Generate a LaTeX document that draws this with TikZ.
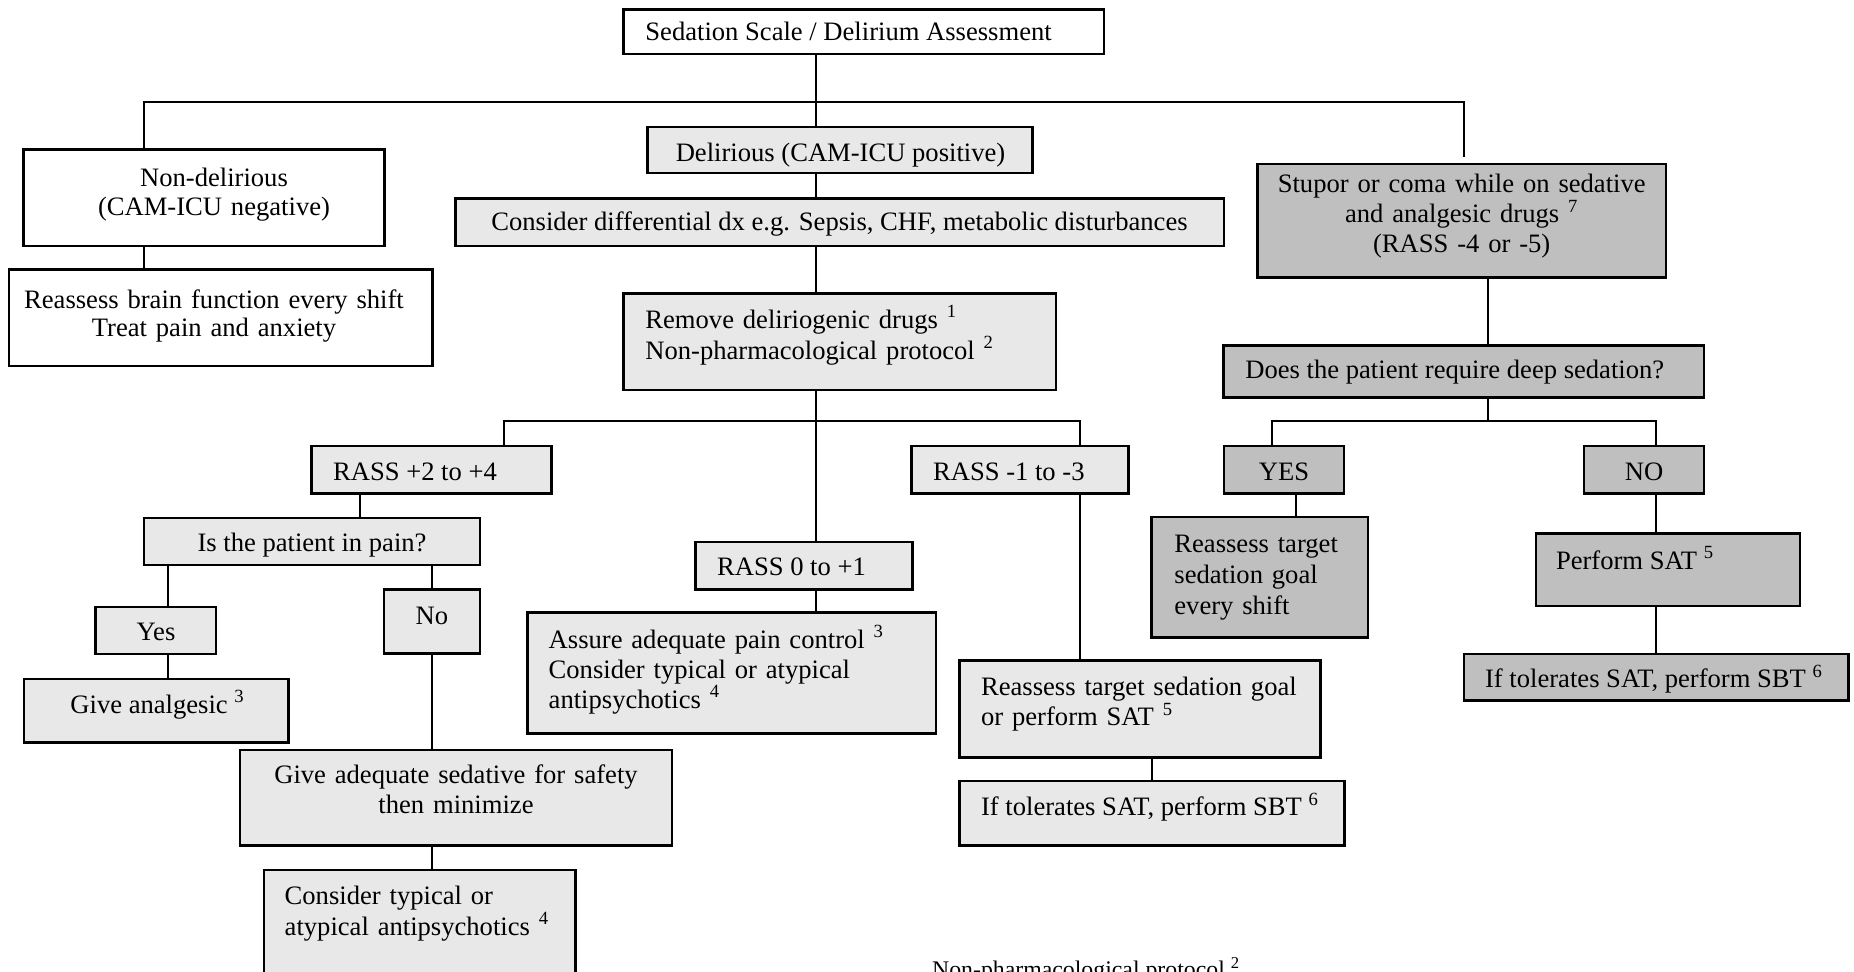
\documentclass[tikz,border=0pt]{standalone}
\usepackage{fontspec}
\setmainfont{Liberation Serif}
\usetikzlibrary{fit}
\definecolor{lite}{gray}{0.91}
\definecolor{dark}{gray}{0.75}
\newcommand{\sups}[1]{\textsuperscript{#1}}
\begin{document}
\begin{tikzpicture}[x=0.5pt,y=-0.5pt,
  box/.style={draw=black, line width=1.3pt, inner sep=0pt, rectangle},
  wbox/.style={box, fill=white},
  lbox/.style={box, fill=lite},
  dbox/.style={box, fill=dark},
  txt/.style={inner sep=0pt, font=\fontsize{13.3}{14.2}\selectfont},
  sp/.style={font=\fontsize{13.3}{#1}\selectfont},
  ml/.style={txt, text width=#1, align=left},
  mc/.style={txt, text width=#1, align=center},
  conn/.style={line width=1pt}]
\clip (0,0) rectangle (1854,971);
\fill[white] (0,0) rectangle (1854,971);

% boxes and texts
\node[wbox, fit={(623.3,9.5) (1104,54)}] (top) {};
\node[txt, anchor=base west] (topT) at (645,40.7) {Sedation Scale / Delirium Assessment};

\node[wbox, fit={(23.5,149.5) (384.5,246)}] (nondel) {};
\node[mc=200pt, anchor=base] (nondelT) at (214,186.7) {Non-delirious\\(CAM-ICU negative)};

\node[wbox, fit={(9,269.3) (432.7,366)}] (brain) {};
\node[mc=220pt, anchor=base] (brainT) at (214,308.3) {Reassess brain function every shift\\Treat pain and anxiety};

\node[lbox, fit={(647.7,127) (1032.3,173)}] (delir) {};
\node[txt, anchor=base] (delirT) at (840.5,161) {Delirious (CAM-ICU positive)};

\node[lbox, fit={(455.3,198.5) (1224,246)}] (diff) {};
\node[txt, anchor=base] (diffT) at (839.5,230) {Consider differential dx e.g. Sepsis, CHF, metabolic disturbances};

\node[lbox, fit={(623.3,293.3) (1056,390)}] (remove) {};
\node[ml=250pt, sp=15.5pt, anchor=base west] (removeT) at (645,328.3) {Remove deliriogenic drugs \sups{1}\\Non-pharmacological protocol \sups{2}};

\node[lbox, fit={(311.6,446) (551.7,493.6)}] (rassA) {};
\node[txt, anchor=base west] (rassAT) at (332.7,480) {RASS +2 to +4};

\node[lbox, fit={(144,518) (480,565)}] (pain) {};
\node[txt, anchor=base] (painT) at (312,551.7) {Is the patient in pain?};

\node[lbox, fit={(95.7,607) (216,654)}] (yes) {};
\node[txt, anchor=base] (yesT) at (156,640.7) {Yes};

\node[lbox, fit={(384,589.3) (480,653.3)}] (no) {};
\node[txt, anchor=base] (noT) at (432,624.3) {No};

\node[lbox, fit={(24,678.8) (288.3,742.7)}] (analg) {};
\node[txt, anchor=base west] (analgT) at (70,713.3) {Give analgesic \sups{3}};

\node[lbox, fit={(240,750) (672,845.7)}] (sedat) {};
\node[mc=300pt, sp=15pt, anchor=base] (sedatT) at (456,783.3) {Give adequate sedative for safety\\then minimize};

\node[lbox, fit={(264,870) (575.7,1000)}] (typ) {};
\node[ml=200pt, sp=15.5pt, anchor=base west] (typT) at (284.3,904) {Consider typical or\\atypical antipsychotics \sups{4}};

\node[lbox, fit={(695.7,542) (912.3,589.3)}] (rassB) {};
\node[txt, anchor=base west] (rassBT) at (716.7,575.7) {RASS 0 to +1};

\node[lbox, fit={(527.7,612.7) (936,733.3)}] (assure) {};
\node[ml=250pt, sp=15pt, anchor=base west] (assureT) at (548.3,648.3) {Assure adequate pain control \sups{3}\\Consider typical or atypical\\antipsychotics \sups{4}};

\node[lbox, fit={(911.7,446) (1128.3,493.6)}] (rassC) {};
\node[txt, anchor=base west] (rassCT) at (932.7,480) {RASS -1 to -3};

\node[lbox, fit={(959.3,660.7) (1320.3,757.5)}] (tgtM) {};
\node[ml=250pt, sp=15pt, anchor=base west] (tgtMT) at (980.7,695.7) {Reassess target sedation goal\\or perform SAT \sups{5}};

\node[lbox, fit={(959.3,780.8) (1344.5,845.6)}] (tolM) {};
\node[txt, anchor=base west] (tolMT) at (980.7,815.7) {If tolerates SAT, perform SBT \sups{6}};

\node[dbox, fit={(1257.3,164) (1666,277.3)}] (stupor) {};
\node[mc=400pt, sp=15pt, anchor=base] (stuporT) at (1461.7,192.5) {Stupor or coma while on sedative\\and analgesic drugs \sups{7}\\(RASS -4 or -5)};

\node[dbox, fit={(1223.3,345.5) (1704,397.3)}] (deep) {};
\node[txt, anchor=base west] (deepT) at (1245,378.8) {Does the patient require deep sedation?};

\node[dbox, fit={(1223.9,446) (1343.9,493.6)}] (yesD) {};
\node[txt, anchor=base] (yesDT) at (1284,480) {YES};

\node[dbox, fit={(1584,446) (1704,493.6)}] (noD) {};
\node[txt, anchor=base] (noDT) at (1644,480) {NO};

\node[dbox, fit={(1151.7,517) (1368,637.4)}] (tgtY) {};
\node[ml=150pt, sp=15.5pt, anchor=base west] (tgtYT) at (1174,552) {Reassess target\\sedation goal\\every shift};

\node[dbox, fit={(1536,533.6) (1800,605.8)}] (sat) {};
\node[txt, anchor=base west] (satT) at (1555.6,569.3) {Perform SAT \sups{5}};

\node[dbox, fit={(1464,653.8) (1848.4,700.5)}] (tolR) {};
\node[txt, anchor=base west] (tolRT) at (1484.7,687.7) {If tolerates SAT, perform SBT \sups{6}};

\node[inner sep=0pt, font=\fontsize{11.9}{13}\selectfont, anchor=base west] (foot) at (931.7,977.5) {Non-pharmacological protocol \sups{2}};

% connector guide coordinates
\coordinate (xc) at (816,0);
\coordinate (xl) at (143.7,0);
\coordinate (xr) at (1464,0);
\coordinate (yh) at (0,101.7);
\coordinate (rEnd) at (1464,157);
\coordinate (y2) at (0,420.8);
\coordinate (xA) at (503.8,0);
\coordinate (xC) at (1080,0);
\coordinate (xP) at (360,0);
\coordinate (xY) at (167.7,0);
\coordinate (xN) at (432,0);
\coordinate (xM) at (1151.7,0);
\coordinate (xD) at (1488,0);
\coordinate (xYt) at (1271.8,0);
\coordinate (xYb) at (1296,0);
\coordinate (xNo) at (1655.6,0);

% connectors
\draw[conn] (top.south -| xc) -- (delir.north -| xc);
\draw[conn] (nondel.north -| xl) -- (xl |- yh) -- (xr |- yh) -- (rEnd);
\draw[conn] (nondel.south -| xl) -- (brain.north -| xl);
\draw[conn] (delir.south -| xc) -- (diff.north -| xc);
\draw[conn] (diff.south -| xc) -- (remove.north -| xc);
\draw[conn] (remove.south -| xc) -- (rassB.north -| xc);
\draw[conn] (rassA.north -| xA) -- (xA |- y2) -- (xC |- y2) -- (rassC.north -| xC);
\draw[conn] (rassA.south -| xP) -- (pain.north -| xP);
\draw[conn] (pain.south -| xY) -- (yes.north -| xY);
\draw[conn] (yes.south -| xY) -- (analg.north -| xY);
\draw[conn] (pain.south -| xN) -- (no.north -| xN);
\draw[conn] (no.south -| xN) -- (sedat.north -| xN);
\draw[conn] (sedat.south -| xN) -- (typ.north -| xN);
\draw[conn] (rassB.south -| xc) -- (assure.north -| xc);
\draw[conn] (rassC.south -| xC) -- (tgtM.north -| xC);
\draw[conn] (tgtM.south -| xM) -- (tolM.north -| xM);
\draw[conn] (stupor.south -| xD) -- (deep.north -| xD);
\draw[conn] (deep.south -| xD) -- (xD |- y2);
\draw[conn] (yesD.north -| xYt) -- (xYt |- y2) -- (xNo |- y2) -- (noD.north -| xNo);
\draw[conn] (yesD.south -| xYb) -- (tgtY.north -| xYb);
\draw[conn] (noD.south -| xNo) -- (sat.north -| xNo);
\draw[conn] (sat.south -| xNo) -- (tolR.north -| xNo);
\end{tikzpicture}
\end{document}
